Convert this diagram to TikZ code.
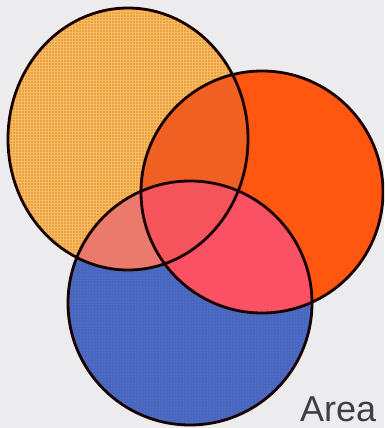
\documentclass[tikz,border=0pt]{standalone}
\usepackage{fontspec}
\setsansfont{Liberation Sans}
\usetikzlibrary{patterns}

\definecolor{paperGray}{RGB}{236,236,238}
\definecolor{ochreFill}{RGB}{236,158,72}
\definecolor{ochreGrid}{RGB}{246,190,92}
\definecolor{redFill}{RGB}{255,86,16}
\definecolor{blueFill}{RGB}{72,102,190}
\definecolor{blueDots}{RGB}{110,140,215}
\definecolor{ochreRed}{RGB}{240,96,34}
\definecolor{ochreBlue}{RGB}{236,122,108}
\definecolor{redBlue}{RGB}{250,82,100}
\definecolor{allThree}{RGB}{245,84,92}
\definecolor{labelGray}{RGB}{62,62,70}

\tikzset{
    rim/.style={draw=black!90!red, line width=2.8},
    areaLabel/.style={font=\sffamily\fontsize{36}{36}\selectfont, text=labelGray, inner sep=0pt}
}

\def\setA{(128,139) ellipse [x radius=120, y radius=131]}
\def\setB{(262,192) circle [radius=121]}
\def\setC{(190,303) circle [radius=122]}

\begin{document}
\begin{tikzpicture}[x=1pt, y=-1pt]

    % Page
    \useasboundingbox (0,0) rectangle (384,428);
    \clip (0,0) rectangle (384,428);
    \fill[paperGray] (0,0) rectangle (384,428);

    % Single sets
    \fill[ochreFill] \setA;
    \fill[pattern=grid, pattern color=ochreGrid] \setA;
    \fill[redFill] \setB;
    \fill[blueFill] \setC;
    \fill[pattern=dots, pattern color=blueDots] \setC;

    % Overlaps
    \begin{scope}
        \clip \setA;
        \fill[ochreRed] \setB;
        \fill[ochreBlue] \setC;
    \end{scope}
    \begin{scope}
        \clip \setB;
        \fill[redBlue] \setC;
        \clip \setC;
        \fill[allThree] \setA;
    \end{scope}

    % Outlines
    \draw[rim] \setA;
    \draw[rim] \setB;
    \draw[rim] \setC;

    % Label
    \node[areaLabel, anchor=base west] (area) at (300,421) {Area};

\end{tikzpicture}
\end{document}
